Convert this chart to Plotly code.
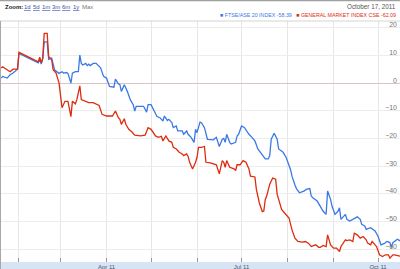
import plotly.graph_objects as go

# ---------------- data ----------------
ftse_dates = ["2011-01-20","2011-01-21","2011-01-24","2011-01-26","2011-01-28","2011-01-31",
"2011-02-01","2011-02-05","2011-02-08","2011-02-12","2011-02-14","2011-02-15","2011-02-16","2011-02-17",
"2011-02-18","2011-02-20","2011-02-21","2011-02-23","2011-02-24","2011-02-25","2011-02-28",
"2011-03-02","2011-03-03","2011-03-05","2011-03-06","2011-03-08","2011-03-09","2011-03-11","2011-03-13",
"2011-03-14","2011-03-15","2011-03-16","2011-03-18","2011-03-19","2011-03-20","2011-03-21","2011-03-23",
"2011-03-25","2011-03-28","2011-03-30","2011-04-01","2011-04-03","2011-04-06","2011-04-07","2011-04-09",
"2011-04-10","2011-04-11","2011-04-13","2011-04-15","2011-04-16","2011-04-17","2011-04-19","2011-04-20",
"2011-04-21","2011-04-24","2011-04-26","2011-04-28","2011-04-29","2011-05-01","2011-05-04","2011-05-05",
"2011-05-07","2011-05-09","2011-05-10","2011-05-12","2011-05-13","2011-05-15","2011-05-16","2011-05-18",
"2011-05-19","2011-05-22","2011-05-23","2011-05-25","2011-05-26","2011-05-28","2011-05-30","2011-05-31",
"2011-06-01","2011-06-03","2011-06-04","2011-06-06","2011-06-08","2011-06-10","2011-06-12","2011-06-14",
"2011-06-15","2011-06-16","2011-06-18","2011-06-19","2011-06-20","2011-06-21","2011-06-23","2011-06-24",
"2011-06-27","2011-06-28","2011-06-29","2011-07-01","2011-07-03","2011-07-06","2011-07-08","2011-07-10",
"2011-07-12","2011-07-15","2011-07-17","2011-07-19","2011-07-20","2011-07-21","2011-07-23","2011-07-25",
"2011-07-26","2011-07-29","2011-07-31","2011-08-03","2011-08-04","2011-08-06","2011-08-07","2011-08-09",
"2011-08-12","2011-08-14","2011-08-16","2011-08-17","2011-08-18","2011-08-21","2011-08-23","2011-08-25",
"2011-08-27","2011-08-28","2011-08-30","2011-08-31","2011-09-02","2011-09-04","2011-09-05","2011-09-06",
"2011-09-09","2011-09-10","2011-09-12","2011-09-14","2011-09-17","2011-09-19","2011-09-20","2011-09-22",
"2011-09-23","2011-09-26","2011-09-29","2011-10-01","2011-10-03","2011-10-05","2011-10-07","2011-10-09",
"2011-10-10","2011-10-11","2011-10-14","2011-10-16"]
ftse_values = [1.8,2.4,1.8,3.0,3.6,5.0,
10.7,9.6,8.9,7.9,7.3,8.5,6.9,8.6,
14.9,14.9,8.6,9.0,6.5,4.7,3.5,
4.1,3.6,3.8,3.5,0.0,3.6,4.1,4.1,
10.1,7.1,6.5,7.1,6.3,6.8,6.3,7.1,
7.1,5.5,2.4,1.8,-1.2,-1.5,1.4,-0.3,
-0.6,-3.0,-0.6,-3.0,-5.0,-6.0,-7.8,-10.1,
-8.4,-8.4,-8.4,-10.5,-7.8,-7.8,-10.7,-12.1,
-12.5,-13.7,-11.9,-13.5,-13.1,-14.3,-16.1,-15.5,
-17.3,-17.3,-18.5,-17.3,-18.5,-19.6,-21.4,-16.7,
-17.9,-14.1,-14.3,-16.1,-20.3,-20.3,-20.5,-19.6,
-21.4,-22.9,-20.3,-20.0,-21.4,-18.5,-21.4,-22.0,
-21.4,-19.1,-18.5,-15.5,-16.1,-18.5,-19.6,-20.9,
-23.8,-26.2,-27.4,-27.4,-26.2,-20.3,-18.1,-20.3,
-23.8,-25.0,-26.8,-31.2,-33.6,-36.8,-38.1,-39.6,
-39.0,-38.3,-38.1,-40.8,-41.4,-42.6,-44.5,-46.3,
-47.4,-39.0,-42.0,-44.5,-47.4,-46.3,-45.0,-49.2,
-47.4,-49.2,-49.8,-49.2,-48.3,-49.2,-51.0,-51.6,
-52.8,-52.2,-53.4,-55.3,-58.4,-58.0,-57.2,-57.6,
-59.4,-57.6,-56.4,-57.0]

cse_dates = ["2011-01-20","2011-01-21","2011-01-24","2011-01-26","2011-01-28","2011-01-31",
"2011-02-01","2011-02-05","2011-02-08","2011-02-12","2011-02-14","2011-02-15","2011-02-16","2011-02-17",
"2011-02-18","2011-02-20","2011-02-21","2011-02-23","2011-02-24","2011-02-26","2011-02-28",
"2011-03-02","2011-03-04","2011-03-06","2011-03-08","2011-03-09","2011-03-11","2011-03-12","2011-03-14",
"2011-03-15","2011-03-18","2011-03-20","2011-03-23","2011-03-27","2011-03-29","2011-04-01","2011-04-05",
"2011-04-07","2011-04-09","2011-04-10","2011-04-11","2011-04-13","2011-04-14","2011-04-16","2011-04-18",
"2011-04-20","2011-04-24","2011-04-27","2011-04-29","2011-05-01","2011-05-04","2011-05-06","2011-05-08",
"2011-05-09","2011-05-11","2011-05-13","2011-05-15","2011-05-16","2011-05-18","2011-05-20","2011-05-22",
"2011-05-23","2011-05-25","2011-05-26","2011-05-27","2011-05-28","2011-05-29","2011-05-31","2011-06-01",
"2011-06-02","2011-06-04","2011-06-06","2011-06-07","2011-06-10","2011-06-12","2011-06-14","2011-06-16",
"2011-06-18","2011-06-19","2011-06-20","2011-06-21","2011-06-23","2011-06-26","2011-06-27","2011-06-28",
"2011-06-30","2011-07-02","2011-07-04","2011-07-06","2011-07-07","2011-07-10","2011-07-11","2011-07-13",
"2011-07-15","2011-07-16","2011-07-17","2011-07-18","2011-07-20","2011-07-22","2011-07-24","2011-07-25",
"2011-07-26","2011-07-28","2011-07-30","2011-08-02","2011-08-04","2011-08-06","2011-08-08","2011-08-11",
"2011-08-13","2011-08-15","2011-08-17","2011-08-20","2011-08-22","2011-08-23","2011-08-25","2011-08-27",
"2011-08-28","2011-08-30","2011-09-01","2011-09-03","2011-09-05","2011-09-06","2011-09-09","2011-09-10",
"2011-09-12","2011-09-14","2011-09-15","2011-09-17","2011-09-19","2011-09-21","2011-09-23","2011-09-24",
"2011-09-26","2011-09-27","2011-09-29","2011-09-30","2011-10-02","2011-10-04","2011-10-06","2011-10-08",
"2011-10-09","2011-10-11","2011-10-12","2011-10-15","2011-10-16"]
cse_values = [5.4,5.9,4.8,4.1,5.0,5.0,
11.1,10.0,9.3,8.3,7.7,9.3,7.3,9.0,
17.9,17.9,9.5,8.5,4.8,3.6,0.0,
-8.9,-6.6,-6.6,-12.1,-6.6,-7.5,-6.0,-1.0,
-6.0,-6.5,-7.1,-7.1,-8.1,-11.3,-11.9,-11.9,
-10.1,-12.5,-13.1,-14.9,-12.9,-14.9,-16.7,-17.6,
-18.8,-19.1,-18.8,-16.1,-16.7,-19.1,-19.6,-19.2,
-20.9,-19.1,-20.9,-21.4,-23.2,-23.8,-25.0,-25.6,
-26.2,-25.6,-26.5,-28.6,-29.8,-31.0,-28.6,-26.8,
-23.2,-23.2,-22.9,-28.6,-28.8,-29.2,-29.5,-32.8,
-28.0,-28.6,-30.4,-28.0,-30.4,-31.0,-31.6,-29.5,
-29.5,-28.0,-28.6,-31.0,-33.6,-33.9,-38.4,-43.3,
-46.4,-46.2,-42.0,-40.7,-36.5,-34.3,-34.7,-40.1,
-42.0,-45.6,-46.9,-48.7,-53.0,-56.0,-57.2,-57.4,
-57.2,-57.8,-59.0,-58.4,-59.3,-59.3,-58.6,-59.0,
-54.8,-58.4,-59.6,-59.6,-60.8,-59.0,-56.6,-56.9,
-56.6,-57.2,-54.2,-54.8,-56.0,-55.4,-56.6,-57.8,
-58.4,-57.2,-58.4,-59.0,-62.0,-62.6,-62.0,-62.0,
-63.2,-62.0,-62.0,-62.3,-62.5]

series_names = ["FTSE/ASE 20 INDEX", "GENERAL MARKET INDEX CSE"]
series_last = [-58.39, -62.09]
series_colors = ["#3b78e7", "#dd2c0e"]

y_ticks = [20, 10, 0, -10, -20, -30, -40, -50, -60]
month_ticks = ["2011-02-01","2011-03-01","2011-04-01","2011-05-01","2011-06-01",
               "2011-07-01","2011-08-01","2011-09-01","2011-10-01"]
month_labels = ["", "", "Apr 11", "", "", "Jul 11", "", "", "Oct 11"]
zoom_links = ["1d", "5d", "1m", "3m", "6m", "1y"]
date_text = "October 17, 2011"

FONT = "Liberation Sans, Arial, sans-serif"
W, H = 400, 269
MT, MB = 21, 7
PH = H - MT - MB

def py(px):  # pixel y -> paper y
    return (H - MB - px) / PH

def pxx(px):
    return px / W

fig = go.Figure()
fig.add_trace(go.Scatter(x=ftse_dates, y=ftse_values, mode="lines",
                         line=dict(color=series_colors[0], width=1.3), hoverinfo="skip"))
fig.add_trace(go.Scatter(x=cse_dates, y=cse_values, mode="lines",
                         line=dict(color=series_colors[1], width=1.3), hoverinfo="skip"))

shapes = [
    dict(type="rect", xref="paper", yref="paper", x0=0, x1=1, y0=py(269), y1=py(262),
         fillcolor="#d6e4f6", line=dict(width=0), layer="below"),
    dict(type="line", xref="paper", yref="paper", x0=0, x1=1, y0=py(0.5), y1=py(0.5),
         line=dict(color="#a0a0a0", width=1.5)),
    dict(type="line", xref="paper", yref="paper", x0=0, x1=1, y0=py(21), y1=py(21),
         line=dict(color="#d4d4d4", width=1)),
    dict(type="line", xref="paper", yref="paper", x0=pxx(0.5), x1=pxx(0.5), y0=py(269), y1=py(21),
         line=dict(color="#a8a8a8", width=1)),
]

annotations = []
annotations.append(dict(xref="paper", yref="paper", x=pxx(3), y=py(7), xanchor="left", yanchor="middle",
                        text="<b>Zoom:</b>", showarrow=False, font=dict(family=FONT, size=6, color="#222")))
link_x = [22, 31, 40, 50, 60, 71]
for lx, lbl in zip(link_x, zoom_links):
    annotations.append(dict(xref="paper", yref="paper", x=pxx(lx), y=py(7), xanchor="left", yanchor="middle",
                            text="<u>" + lbl + "</u>", showarrow=False,
                            font=dict(family=FONT, size=6, color="#3a4fb0")))
annotations.append(dict(xref="paper", yref="paper", x=pxx(80), y=py(7), xanchor="left", yanchor="middle",
                        text="Max", showarrow=False, font=dict(family=FONT, size=6, color="#777")))
annotations.append(dict(xref="paper", yref="paper", x=pxx(398), y=py(6), xanchor="right", yanchor="middle",
                        text=date_text, showarrow=False, font=dict(family=FONT, size=6.3, color="#555")))
leg = "   ".join(
    "<span style='color:%s'>■ %s %.2f</span>" % (c, n, v)
    for n, v, c in zip(series_names, series_last, series_colors))
annotations.append(dict(xref="paper", yref="paper", x=pxx(398), y=py(15), xanchor="right", yanchor="middle",
                        text=leg, showarrow=False, font=dict(family=FONT, size=5.3, color="#333")))

fig.update_layout(
    width=W, height=H,
    margin=dict(l=0, r=0, t=MT, b=MB, pad=0),
    paper_bgcolor="white", plot_bgcolor="white",
    showlegend=False,
    shapes=shapes, annotations=annotations,
    xaxis=dict(type="date", range=["2011-01-19 04:48", "2011-10-15 19:12"],
               tickmode="array", tickvals=month_ticks, ticktext=month_labels,
               showgrid=True, gridcolor="#e6e6e6", gridwidth=1,
               ticks="inside", ticklen=4, tickcolor="#9a9a9a", tickwidth=1,
               tickfont=dict(family=FONT, size=6, color="#4b586a"),
               ticklabelstandoff=0, showline=False, zeroline=False, fixedrange=True),
    yaxis=dict(range=[-64.6, 22.4], side="right", tickmode="array", tickvals=y_ticks,
               ticklabelposition="inside", ticklabelshift=-3,
               tickfont=dict(family=FONT, size=7, color="#777"),
               showgrid=True, gridcolor="#ececec", gridwidth=1,
               zeroline=True, zerolinecolor="#d9c3c3", zerolinewidth=1,
               showline=False, ticks="", fixedrange=True),
)

fig.write_html("out.html")
